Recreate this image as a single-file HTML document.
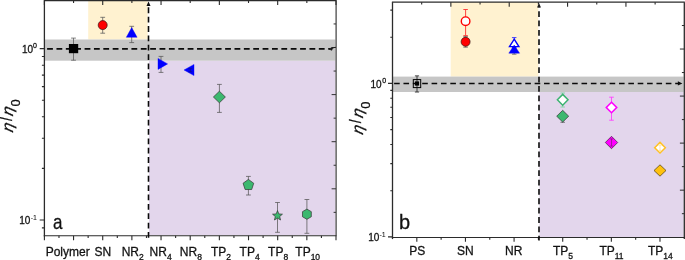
<!DOCTYPE html>
<html lang="en"><head><meta charset="utf-8"><title>Relative viscosity charts</title>
<style>html,body{margin:0;padding:0;background:#fff}body{width:685px;height:260px;overflow:hidden}svg{display:block}text{stroke:#111;stroke-width:.28px;paint-order:stroke}</style>
</head><body>
<svg width="685" height="260" viewBox="0 0 685 260" font-family="Liberation Sans, sans-serif">
<rect x="0" y="0" width="685" height="260" fill="#ffffff"/>
<rect x="88.2" y="0" width="59.5" height="39.5" fill="#fff2d0"/>
<rect x="149" y="60.7" width="186.3" height="174.3" fill="#e3d6ec"/>
<rect x="44.4" y="39.5" width="290.9" height="21.2" fill="#c6c6c6"/>
<path d="M44.4 0.5H336.0" stroke="#2b2b2b" stroke-width="1.3" fill="none"/>
<path d="M44.4 0V236.35" stroke="#2b2b2b" stroke-width="1.3" fill="none"/>
<path d="M43.8 235.75H336.6" stroke="#2b2b2b" stroke-width="1.2" fill="none"/>
<path d="M336.1 0V235.75" stroke="#333" stroke-width="1.15" fill="none"/>
<path d="M44.40 235.75V240.35M73.56 235.75V240.35M102.72 235.75V240.35M131.88 235.75V240.35M161.04 235.75V240.35M190.20 235.75V240.35M219.36 235.75V240.35M248.52 235.75V240.35M277.68 235.75V240.35M306.84 235.75V240.35M336.00 235.75V240.35M58.98 235.75V237.95M88.14 235.75V237.95M117.30 235.75V237.95M146.46 235.75V237.95M175.62 235.75V237.95M204.78 235.75V237.95M233.94 235.75V237.95M263.10 235.75V237.95M292.26 235.75V237.95M321.42 235.75V237.95" stroke="#2b2b2b" stroke-width="1.1" fill="none"/>
<path d="M44.40 0.5V5.1M73.56 0.5V3.1M102.72 0.5V5.1M131.88 0.5V3.1M161.04 0.5V5.1M190.20 0.5V3.1M219.36 0.5V5.1M248.52 0.5V3.1M277.68 0.5V5.1M306.84 0.5V3.1M336.00 0.5V5.1" stroke="#2b2b2b" stroke-width="1.1" fill="none"/>
<path d="M44.4 48.60H39.7M44.4 220.00H39.7M44.4 56.44H41.9M44.4 65.21H41.9M44.4 75.15H41.9M44.4 86.62H41.9M44.4 100.20H41.9M44.4 116.81H41.9M44.4 138.22H41.9M44.4 168.40H41.9M44.4 227.84H41.9" stroke="#2b2b2b" stroke-width="1.1" fill="none"/>
<path d="M336.0 23.95H333.6M336.0 47.50H331.6M336.0 71.05H333.6M336.0 94.60H331.6M336.0 118.15H333.6M336.0 141.70H331.6M336.0 165.25H333.6M336.0 188.80H331.6M336.0 212.35H333.6" stroke="#333" stroke-width="1" fill="none"/>
<path d="M47.1 48.9H330" stroke="#0a0a0a" stroke-width="1.8" stroke-dasharray="5.8 3.57" fill="none"/>
<path d="M329 49.0l3.4 -1.4l-0.6 2.6zM331 48.6L335.5 47.2" stroke="#1a1a1a" stroke-width="0.9" fill="#1a1a1a"/>
<path d="M148.5 237.8V5" stroke="#0a0a0a" stroke-width="1.6" stroke-dasharray="5.8 3.56" fill="none"/>
<path d="M148.5 1.4L150.5 6H146.5Z" fill="#0a0a0a"/>
<path d="M73.5 38.1V60.2M71.1 38.1H75.9M71.1 60.2H75.9" stroke="#555" stroke-width="0.75" fill="none"/>
<rect x="68.9" y="44" width="9.3" height="9.2" fill="#000"/>
<path d="M102.7 17.3V33.2M100.3 17.3H105.1M100.3 33.2H105.1" stroke="#555" stroke-width="0.75" fill="none"/>
<circle cx="102.7" cy="25.1" r="4.5" fill="#ff0000" stroke="#3a1010" stroke-width="0.7"/>
<path d="M131.7 26.3V42.6M129.3 26.3H134.1M129.3 42.6H134.1" stroke="#555" stroke-width="0.75" fill="none"/>
<polygon points="131.70,27.60 137.10,37.30 126.30,37.30" fill="#0000ff" stroke="#0000ff" stroke-width="0.4" stroke-linejoin="miter"/>
<path d="M161 56.4V72.4M158.6 56.4H163.4M158.6 72.4H163.4" stroke="#555" stroke-width="0.75" fill="none"/>
<polygon points="158.00,58.40 167.60,63.90 158.00,69.40" fill="#0000ff" stroke="#0000ff" stroke-width="0.4" stroke-linejoin="miter"/>
<polygon points="194.00,64.40 184.00,70.00 194.00,75.60" fill="#0000ff" stroke="#0000ff" stroke-width="0.4" stroke-linejoin="miter"/>
<path d="M190.3 68.6V71.8M188.3 68.6H192.3M188.3 71.8H192.3" stroke="#101070" stroke-width="0.6" fill="none"/>
<path d="M219.4 84.4V112.4M217.0 84.4H221.8M217.0 112.4H221.8" stroke="#555" stroke-width="0.75" fill="none"/>
<polygon points="219.40,91.20 225.40,97.00 219.40,102.80 213.40,97.00" fill="#3cb86f" stroke="#333" stroke-width="0.7" stroke-linejoin="miter"/>
<path d="M248.4 176.4V195M246.0 176.4H250.8M246.0 195H250.8" stroke="#555" stroke-width="0.75" fill="none"/>
<polygon points="248.40,179.40 253.73,183.27 251.69,189.53 245.11,189.53 243.07,183.27" fill="#3cb86f" stroke="#333" stroke-width="0.7" stroke-linejoin="miter"/>
<path d="M277.5 202.5V232.3M275.1 202.5H279.9M275.1 232.3H279.9" stroke="#555" stroke-width="0.75" fill="none"/>
<polygon points="277.50,210.60 278.85,213.94 282.45,214.19 279.69,216.51 280.56,220.01 277.50,218.10 274.44,220.01 275.31,216.51 272.55,214.19 276.15,213.94" fill="#3cb86f" stroke="#333" stroke-width="0.7" stroke-linejoin="miter"/>
<path d="M306.9 199.5V233.3M304.5 199.5H309.3M304.5 233.3H309.3" stroke="#555" stroke-width="0.75" fill="none"/>
<polygon points="306.90,209.10 311.32,211.65 311.32,216.75 306.90,219.30 302.48,216.75 302.48,211.65" fill="#3cb86f" stroke="#333" stroke-width="0.7" stroke-linejoin="miter"/>
<text x="21.9" y="52.5" font-size="10" fill="#111">10<tspan font-size="7" dy="-4.7" dx="-0.1">0</tspan></text>
<text x="19.3" y="224.3" font-size="10" fill="#111">10<tspan font-size="7" dy="-4.5" dx="0.2" stroke-width="0.05">-1</tspan></text>
<text transform="translate(53.0 228.8) scale(0.85 1)" font-size="20" fill="#111">a</text>
<text x="45.7" y="255.8" font-size="12" fill="#111">Polymer</text>
<text x="94.6" y="255.8" font-size="12" fill="#111">SN</text>
<text x="121.7" y="255.8" font-size="12" fill="#111">NR<tspan font-size="8.5" dy="3.7">2</tspan></text>
<text x="149.6" y="255.8" font-size="12" fill="#111">NR<tspan font-size="8.5" dy="3.7">4</tspan></text>
<text x="179.8" y="255.8" font-size="12" fill="#111">NR<tspan font-size="8.5" dy="3.7">8</tspan></text>
<text x="211" y="255.8" font-size="12" fill="#111">TP<tspan font-size="8.5" dy="3.7">2</tspan></text>
<text x="239.6" y="255.8" font-size="12" fill="#111">TP<tspan font-size="8.5" dy="3.7">4</tspan></text>
<text x="268.1" y="255.8" font-size="12" fill="#111">TP<tspan font-size="8.5" dy="3.7">8</tspan></text>
<text x="295.3" y="255.8" font-size="12" fill="#111">TP<tspan font-size="8.5" dy="3.7">10</tspan></text>
<g transform="translate(11.5 133.8) rotate(-90)" fill="#111"><text transform="translate(1.0 1.3) skewX(-13) scale(1.06 1)" font-size="15.5" font-style="italic" stroke="#111" stroke-width="0.35">η</text><text transform="translate(12.7 0) scale(0.85 1)" font-size="16.5">/</text><text transform="translate(17.4 1.3) skewX(-13) scale(1.06 1)" font-size="15.5" font-style="italic" stroke="#111" stroke-width="0.35">η</text><text x="27.2" y="8.7" font-size="13">0</text></g>
<rect x="450.7" y="2" width="87.6" height="74.6" fill="#fff2d0"/>
<rect x="539.4" y="92" width="144.2" height="145.0" fill="#e3d6ec"/>
<rect x="392.5" y="76.6" width="291.1" height="15.4" fill="#c6c6c6"/>
<path d="M391.9 2.2H684.8" stroke="#2b2b2b" stroke-width="1.3" fill="none"/>
<path d="M392.5 2.2V239.1" stroke="#2b2b2b" stroke-width="1.3" fill="none"/>
<path d="M391.9 237.5H684.9" stroke="#2b2b2b" stroke-width="1.2" fill="none"/>
<path d="M684.3 2.2V239.1" stroke="#2b2b2b" stroke-width="1.3" fill="none"/>
<path d="M416.82 237.5V241.7M465.45 237.5V241.7M514.08 237.5V241.7M562.72 237.5V241.7M611.35 237.5V241.7M659.98 237.5V241.7M441.13 237.5V239.7M489.77 237.5V239.7M538.40 237.5V239.7M587.03 237.5V239.7M635.67 237.5V239.7" stroke="#2b2b2b" stroke-width="1.1" fill="none"/>
<path d="M421.68 2.2V4.4M450.86 2.2V6.7M480.04 2.2V4.4M509.22 2.2V6.7M538.40 2.2V4.4M567.58 2.2V6.7M596.76 2.2V4.4M625.94 2.2V6.7M655.12 2.2V4.4" stroke="#2b2b2b" stroke-width="1.1" fill="none"/>
<path d="M392.5 83.40H388.0M392.5 236.90H388.0M392.5 10.16H390.3M392.5 37.19H390.3M392.5 90.42H390.3M392.5 98.28H390.3M392.5 107.18H390.3M392.5 117.45H390.3M392.5 129.61H390.3M392.5 144.48H390.3M392.5 163.66H390.3M392.5 190.69H390.3" stroke="#2b2b2b" stroke-width="1.1" fill="none"/>
<path d="M684.3 25.52H681.9M684.3 49.04H679.9M684.3 72.56H681.9M684.3 96.08H679.9M684.3 119.60H681.9M684.3 143.12H679.9M684.3 166.64H681.9M684.3 190.16H679.9M684.3 213.68H681.9" stroke="#2b2b2b" stroke-width="1" fill="none"/>
<path d="M394.1 83.4H679" stroke="#0a0a0a" stroke-width="1.5" stroke-dasharray="5.6 3.77" fill="none"/>
<path d="M539 240.5V7" stroke="#0a0a0a" stroke-width="1.6" stroke-dasharray="5.8 3.56" stroke-dashoffset="1.1" fill="none"/>
<path d="M539 3L541 7.6H537Z" fill="#1a1a1a"/>
<path d="M682.4 83.4L677.9 81.3V85.5Z" fill="#0a0a0a"/>
<path d="M417 75.9V92M414.9 75.9H419.1M414.9 92H419.1" stroke="#2a2a2a" stroke-width="0.9" fill="none"/>
<rect x="413.3" y="79.6" width="7.4" height="8" fill="#fff" fill-opacity="0.0" stroke="#000" stroke-width="1"/>
<rect x="414.9" y="81.4" width="4.2" height="4.2" fill="#000"/>
<path d="M465.6 9.5V35.6M463.35 9.5H467.85M463.35 35.6H467.85" stroke="#ff3030" stroke-width="0.9" fill="none"/>
<circle cx="465.6" cy="21.2" r="4.3" fill="#fff" stroke="#ff0000" stroke-width="1.4"/>
<path d="M465.6 36.6V47.2M463.35 36.6H467.85M463.35 47.2H467.85" stroke="#555" stroke-width="0.75" fill="none"/>
<circle cx="465.6" cy="41.8" r="4.5" fill="#ff0000" stroke="#3a1010" stroke-width="0.7"/>
<path d="M514.2 37.6V47.5M511.95 37.6H516.45M511.95 47.5H516.45" stroke="#3030ff" stroke-width="0.9" fill="none"/>
<polygon points="514.20,39.20 518.90,46.60 509.50,46.60" fill="#fff" stroke="#0000ff" stroke-width="1.4" stroke-linejoin="miter"/>
<path d="M514.2 49V54.2M511.95 49H516.45M511.95 54.2H516.45" stroke="#555" stroke-width="0.75" fill="none"/>
<polygon points="514.20,45.00 519.60,53.20 508.80,53.20" fill="#0000ff" stroke="#0000ff" stroke-width="0.4" stroke-linejoin="miter"/>
<path d="M562.7 93V107M560.45 93H564.95M560.45 107H564.95" stroke="#7fd6a4" stroke-width="0.9" fill="none"/>
<polygon points="562.70,94.40 568.00,99.80 562.70,105.20 557.40,99.80" fill="#fff" stroke="#3cb371" stroke-width="1.5" stroke-linejoin="miter"/>
<path d="M562.7 114V122.3M560.45 114H564.95M560.45 122.3H564.95" stroke="#555" stroke-width="0.75" fill="none"/>
<polygon points="562.70,110.30 568.70,116.20 562.70,122.10 556.70,116.20" fill="#3cb86f" stroke="#333" stroke-width="0.7" stroke-linejoin="miter"/>
<path d="M611.5 97.2V120.2M609.2 97.2H613.8M609.2 120.2H613.8" stroke="#ff40ff" stroke-width="0.9" fill="none"/>
<polygon points="611.50,102.30 616.70,107.50 611.50,112.70 606.30,107.50" fill="#fff" stroke="#ff00ff" stroke-width="1.6" stroke-linejoin="miter"/>
<polygon points="611.50,136.30 617.70,142.50 611.50,148.70 605.30,142.50" fill="#ff00ff" stroke="#402040" stroke-width="0.7" stroke-linejoin="miter"/>
<path d="M611.5 138.9V146.1M609.9 138.9H613.1M609.9 146.1H613.1" stroke="#802080" stroke-width="0.7" fill="none"/>
<polygon points="660.00,142.40 665.30,147.70 660.00,153.00 654.70,147.70" fill="#fff" stroke="#ffc125" stroke-width="1.5" stroke-linejoin="miter"/>
<path d="M660 145V150.4M658.25 145H661.75M658.25 150.4H661.75" stroke="#ffe090" stroke-width="0.8" fill="none"/>
<polygon points="660.00,164.80 666.00,170.50 660.00,176.20 654.00,170.50" fill="#ffc20e" stroke="#4a3a10" stroke-width="0.7" stroke-linejoin="miter"/>
<text x="370.4" y="87.5" font-size="10" fill="#111">10<tspan font-size="7" dy="-4.6" dx="0.6">0</tspan></text>
<text x="368.2" y="241.1" font-size="10" fill="#111">10<tspan font-size="7" dy="-4.6" dx="0.2" stroke-width="0.05">-1</tspan></text>
<text x="399" y="228.5" font-size="20" fill="#111">b</text>
<text x="409.3" y="255.3" font-size="12" fill="#111">PS</text>
<text x="457" y="255.3" font-size="12" fill="#111">SN</text>
<text x="505" y="255.3" font-size="12" fill="#111">NR</text>
<text x="553" y="255.3" font-size="12" fill="#111">TP<tspan font-size="8.5" dy="3.7">5</tspan></text>
<text x="599.4" y="255.3" font-size="12" fill="#111">TP<tspan font-size="8.5" dy="3.7">11</tspan></text>
<text x="648" y="255.3" font-size="12" fill="#111">TP<tspan font-size="8.5" dy="3.7">14</tspan></text>
<g transform="translate(361.3 136) rotate(-90)" fill="#111"><text transform="translate(1.0 1.3) skewX(-13) scale(1.06 1)" font-size="15.5" font-style="italic" stroke="#111" stroke-width="0.35">η</text><text transform="translate(12.7 0) scale(0.85 1)" font-size="16.5">/</text><text transform="translate(17.4 1.3) skewX(-13) scale(1.06 1)" font-size="15.5" font-style="italic" stroke="#111" stroke-width="0.35">η</text><text x="27.2" y="8.7" font-size="13">0</text></g>
</svg>
</body></html>
